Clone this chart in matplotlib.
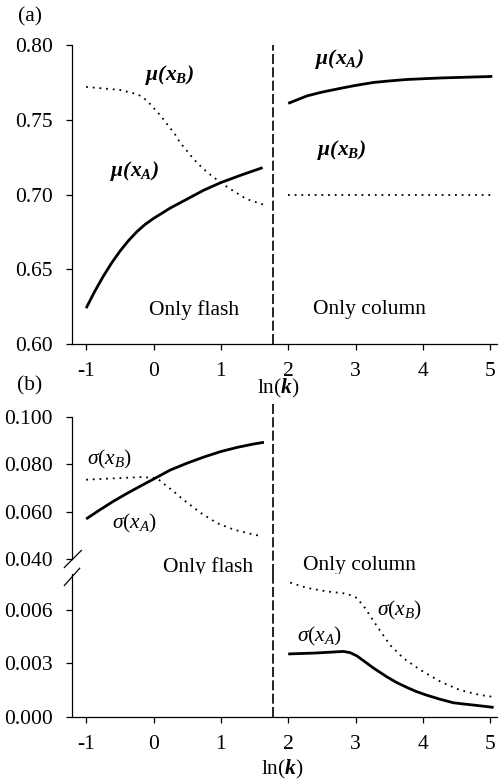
"""
Mean and spread of the product compositions against ln(k),
flash-only region vs column-only region.
"""

import numpy as np
import matplotlib
matplotlib.use("Agg")
import matplotlib.pyplot as plt

plt.rcParams["font.family"] = "Liberation Serif"
plt.rcParams["mathtext.fontset"] = "custom"
plt.rcParams["mathtext.rm"] = "Liberation Serif"
plt.rcParams["mathtext.it"] = "Liberation Serif:italic"
plt.rcParams["mathtext.bf"] = "Liberation Serif:italic:bold"
plt.rcParams["axes.unicode_minus"] = False

# boundary between the two regimes
boundary = 1.78

# (a) means
lnk_flash_muA = [-1.0, -0.875, -0.75, -0.625, -0.5, -0.375, -0.25, -0.125, 0.0,
                 0.25, 0.5, 0.75, 1.0, 1.3, 1.62]
muA_flash = [0.624, 0.635, 0.645, 0.654, 0.662, 0.669, 0.675, 0.680, 0.684,
             0.691, 0.697, 0.703, 0.708, 0.713, 0.718]
lnk_flash_muB = [-1.0, -0.5, -0.23, -0.1, 0.0, 0.12, 0.22, 0.31, 0.39, 0.5,
                 0.59, 0.72, 0.85, 1.0, 1.13, 1.38, 1.65]
muB_flash = [0.772, 0.770, 0.767, 0.763, 0.758, 0.752, 0.746, 0.741, 0.735,
             0.729, 0.724, 0.718, 0.713, 0.708, 0.704, 0.697, 0.693]
lnk_col = [2.0, 2.14, 2.28, 2.5, 2.77, 3.0, 3.27, 3.5, 3.77, 4.27, 4.65, 5.03]
muA_col = [0.761, 0.7635, 0.766, 0.7685, 0.771, 0.773, 0.775, 0.776, 0.777,
           0.778, 0.7785, 0.779]
muB_col = [0.700, 0.700, 0.700, 0.700, 0.700, 0.700, 0.700, 0.700, 0.700,
           0.700, 0.700, 0.700]

# (b) standard deviations
lnk_flash_sA = [-1.0, -0.8, -0.6, -0.4, -0.2, 0.03, 0.25, 0.5, 0.75, 1.0,
                1.25, 1.49, 1.64]
sigA_flash = [0.0569, 0.0607, 0.0643, 0.0676, 0.0707, 0.0742, 0.0776, 0.0805,
              0.0831, 0.0854, 0.0872, 0.0886, 0.0893]
lnk_flash_sB = [-1.0, -0.2, 0.05, 0.17, 0.3, 0.44, 0.7, 0.94, 1.19, 1.49, 1.61]
sigB_flash = [0.0735, 0.0746, 0.0742, 0.0714, 0.0685, 0.0651, 0.0595, 0.0552,
              0.0524, 0.0503, 0.0496]
lnk_col_sA = [2.0, 2.4, 2.82, 2.92, 3.02, 3.1, 3.27, 3.46, 3.6, 3.76, 3.9,
              4.05, 4.25, 4.45, 4.6, 4.75, 5.05]
sigA_col = [0.00353, 0.00358, 0.00367, 0.00360, 0.00342, 0.00320, 0.00273,
            0.00226, 0.00195, 0.00166, 0.00143, 0.00123, 0.00100, 0.00080,
            0.00073, 0.00067, 0.00054]
lnk_col_sB = [2.03, 2.28, 2.57, 2.87, 3.02, 3.14, 3.32, 3.51, 3.71, 3.96,
              4.26, 4.55, 4.85, 5.02]
sigB_col = [0.00752, 0.00722, 0.00703, 0.0069, 0.00666, 0.0061, 0.00507,
            0.00404, 0.00329, 0.00264, 0.00198, 0.00151, 0.00123, 0.00114]

xticks = [-1, 0, 1, 2, 3, 4, 5]
xlim = (-1.21, 5.1)

solid = dict(color="black", lw=2.0, solid_capstyle="butt", solid_joinstyle="round")
dotted = dict(color="black", lw=1.3, ls=(0, (1, 2.7)))
dashed = dict(color="black", lw=1.2, ls=(0, (6, 2)))
fs = 15.5

fig = plt.figure(figsize=(4.99, 7.81), dpi=100)
ax_a = fig.add_axes([0.1443, 0.5595, 0.8517, 0.3828])
ax_bt = fig.add_axes([0.1443, 0.2843, 0.8517, 0.1818])
ax_bb = fig.add_axes([0.1443, 0.0819, 0.8517, 0.1831])


def style(ax):
    for s in ["top", "right"]:
        ax.spines[s].set_visible(False)
    for s in ["left", "bottom"]:
        ax.spines[s].set_linewidth(0.9)
    ax.tick_params(direction="out", length=4, width=0.9, labelsize=fs)
    ax.tick_params(axis="y", pad=10)
    ax.tick_params(axis="x", pad=9)
    ax.set_xlim(*xlim)
    ax.set_xticks(xticks)
    ax.set_xticklabels([str(t) for t in xticks])


# ---- panel (a)
style(ax_a)
ax_a.plot(lnk_flash_muA, muA_flash, **solid)
ax_a.plot(lnk_flash_muB, muB_flash, **dotted)
ax_a.plot(lnk_col, muA_col, **solid)
ax_a.plot(lnk_col, muB_col, **dotted)
ax_a.axvline(boundary, **dashed)
ax_a.set_ylim(0.60, 0.80)
ax_a.set_yticks([0.60, 0.65, 0.70, 0.75, 0.80])
ax_a.set_yticklabels(["%.2f" % v for v in [0.60, 0.65, 0.70, 0.75, 0.80]])
ax_a.set_xlabel(r"ln($\mathbf{k}$)", fontsize=fs)
ax_a.xaxis.set_label_coords(0.485, -0.11)

ax_a.text(0.24, 0.780, r"$\mathbf{\mu(x_B)}$", fontsize=fs, ha="center", va="center")
ax_a.text(-0.275, 0.716, r"$\mathbf{\mu(x_A)}$", fontsize=fs, ha="center", va="center")
ax_a.text(2.77, 0.791, r"$\mathbf{\mu(x_A)}$", fontsize=fs, ha="center", va="center")
ax_a.text(2.80, 0.730, r"$\mathbf{\mu(x_B)}$", fontsize=fs, ha="center", va="center")
ax_a.text(0.60, 0.623, "Only flash", fontsize=fs, ha="center", va="center")
ax_a.text(3.21, 0.623, "Only column", fontsize=fs, ha="center", va="center")

# ---- panel (b), upper part
style(ax_bt)
ax_bt.spines["bottom"].set_visible(False)
ax_bt.tick_params(axis="x", bottom=False, labelbottom=False)
ax_bt.plot(lnk_flash_sA, sigA_flash, **solid)
ax_bt.plot(lnk_flash_sB, sigB_flash, **dotted)
ax_bt.axvline(boundary, ymin=-0.106, ymax=1.106, clip_on=False, **dashed)
ax_bt.set_ylim(0.040, 0.100)
ax_bt.set_yticks([0.040, 0.060, 0.080, 0.100])
ax_bt.set_yticklabels(["%.3f" % v for v in [0.040, 0.060, 0.080, 0.100]])
ax_bt.text(-0.65, 0.0819, r"$\sigma(x_B)$", fontsize=fs, ha="center", va="center")
ax_bt.text(-0.275, 0.0550, r"$\sigma(x_A)$", fontsize=fs, ha="center", va="center")
ax_bt.text(0.81, 0.0365, "Only flash", fontsize=fs, ha="center", va="center")
ax_bt.text(3.06, 0.0372, "Only column", fontsize=fs, ha="center", va="center")

# ---- panel (b), lower part
style(ax_bb)
ax_bb.plot(lnk_col_sA, sigA_col, **solid)
ax_bb.plot(lnk_col_sB, sigB_col, **dotted)
ax_bb.axvline(boundary, **dashed)
ax_bb.set_ylim(0.0, 0.008)
ax_bb.set_yticks([0.000, 0.003, 0.006])
ax_bb.set_yticklabels(["%.3f" % v for v in [0.000, 0.003, 0.006]])
ax_bb.set_xlabel(r"ln($\mathbf{k}$)", fontsize=fs)
ax_bb.xaxis.set_label_coords(0.496, -0.285)
ax_bb.text(3.66, 0.00595, r"$\sigma(x_B)$", fontsize=fs, ha="center", va="center")
ax_bb.text(2.47, 0.00449, r"$\sigma(x_A)$", fontsize=fs, ha="center", va="center")

# break marks on the left spine
kw = dict(color="black", lw=0.9, clip_on=False)
ax_bt.plot([-0.018, 0.022], [-0.06, 0.06], transform=ax_bt.transAxes, **kw)
ax_bb.plot([-0.018, 0.018], [0.92, 1.04], transform=ax_bb.transAxes, **kw)

fig.text(0.060, 0.978, "(a)", fontsize=fs, ha="center", va="center")
fig.text(0.060, 0.506, "(b)", fontsize=fs, ha="center", va="center")

fig.savefig("out.png", dpi=100)
